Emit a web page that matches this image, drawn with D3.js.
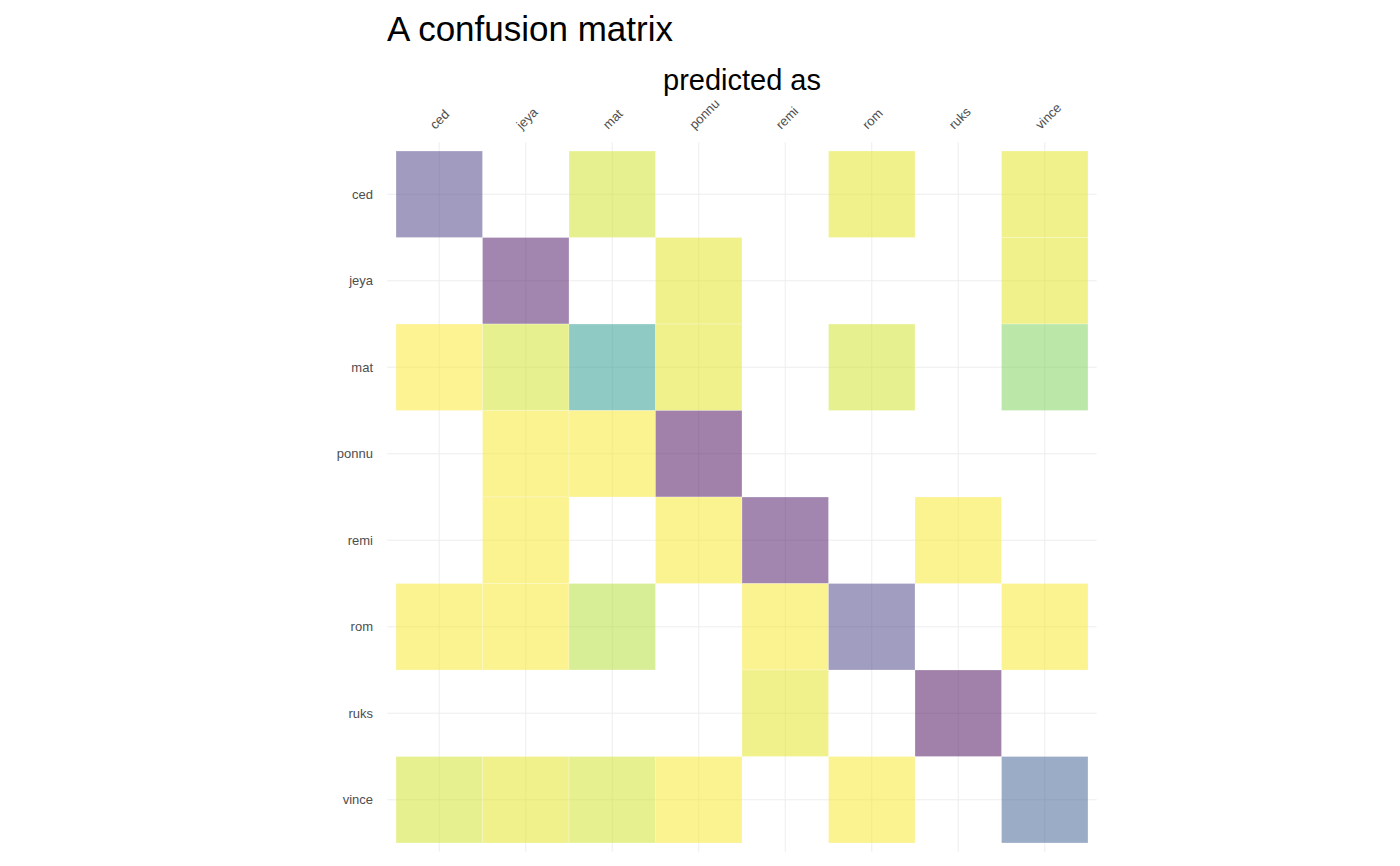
<!DOCTYPE html>
<html>
<head>
<meta charset="utf-8">
<script src="https://cdn.jsdelivr.net/npm/d3@7"></script>
<style>
    body { margin: 0; background: #fff; font-family: "Liberation Sans", Arial, sans-serif; }
    .grid line { stroke: #ebebeb; stroke-width: 0.9; }
    .tile { stroke: #fff; stroke-opacity: 0.25; stroke-width: 1; fill-opacity: 0.5; }
    .tick-label { fill: #4d4d4d; font-size: 13px; }
    .title { fill: #000; font-size: 35px; }
    .axis-title { fill: #000; font-size: 29px; }
</style>
</head>
<body>
<div id="chart"></div>
<script>
const categories = ["ced", "jeya", "mat", "ponnu", "remi", "rom", "ruks", "vince"];

// share of each actual name predicted as each column (null = never predicted)
const sharesCed   = [0.79, null, 0.09, null, null, 0.06, null, 0.06];
const sharesJeya  = [null, 0.91, null, 0.06, null, null, null, 0.06];
const sharesMat   = [0.02, 0.09, 0.46, 0.06, null, 0.09, null, 0.21];
const sharesPonnu = [null, 0.03, 0.03, 0.94, null, null, null, null];
const sharesRemi  = [null, 0.03, null, 0.03, 0.91, null, 0.03, null];
const sharesRom   = [0.03, 0.03, 0.13, null, 0.03, 0.78, null, 0.03];
const sharesRuks  = [null, null, null, null, 0.06, null, 0.94, null];
const sharesVince = [0.09, 0.06, 0.09, 0.03, null, 0.03, null, 0.68];

const rows = [sharesCed, sharesJeya, sharesMat, sharesPonnu,
              sharesRemi, sharesRom, sharesRuks, sharesVince];

class confusionChart {
    constructor(item) {
        this.id = item.id;
        this.categories = item.categories;
        this.cells = [];
        item.rows.forEach((row, i) => {
            row.forEach((v, j) => {
                if (v !== null) {
                    this.cells.push({actual: this.categories[i], predicted: this.categories[j], share: v});
                }
            });
        });
        this.select = d3.select(`#${this.id}`);

        this.init();
        this.createSVG();
        this.build_chart();
    }

    init() {
        this.width = 1400;
        this.height = 866;

        this.scale_x = d3
            .scaleBand()
            .domain(this.categories)
            .range([396, 1088]);

        this.scale_y = d3
            .scaleBand()
            .domain(this.categories)
            .range([151, 843]);

        const extent = d3.extent(this.cells, d => d.share);
        // reversed viridis: small shares yellow, large shares purple
        this.color = d3
            .scaleSequential(d3.interpolateViridis)
            .domain([extent[1], extent[0]]);

        const bw = this.scale_x.bandwidth();
        this.panel = {
            x0: this.scale_x.range()[0] - bw * 0.1,
            x1: this.scale_x.range()[1] + bw * 0.1,
            y0: this.scale_y.range()[0] - bw * 0.1,
            y1: this.scale_y.range()[1] + bw * 0.1
        };
    }

    createSVG() {
        this.plot = this.select
            .append("svg")
            .attr("width", this.width)
            .attr("height", this.height);
        this.grid = this.plot.append("g").attr("class", "grid");
        this.plot_chart = this.plot.append("g").attr("class", "chart");
        this.axis_x = this.plot.append("g").attr("class", "axis axis-x");
        this.axis_y = this.plot.append("g").attr("class", "axis axis-y");
    }

    add_axis() {
        const half = this.scale_x.bandwidth() / 2;

        this.grid
            .selectAll(".grid-x")
            .data(this.categories)
            .join("line")
            .attr("class", "grid-x")
            .attr("x1", d => this.scale_x(d) + half)
            .attr("x2", d => this.scale_x(d) + half)
            .attr("y1", this.panel.y0)
            .attr("y2", this.panel.y1);

        this.grid
            .selectAll(".grid-y")
            .data(this.categories)
            .join("line")
            .attr("class", "grid-y")
            .attr("y1", d => this.scale_y(d) + half)
            .attr("y2", d => this.scale_y(d) + half)
            .attr("x1", this.panel.x0)
            .attr("x2", this.panel.x1);

        this.axis_x
            .selectAll("text")
            .data(this.categories)
            .join("text")
            .attr("class", "tick-label")
            .attr("transform", d => `translate(${this.scale_x(d) + half - 4}, 130) rotate(-45)`)
            .attr("text-anchor", "start")
            .text(d => d);

        this.axis_y
            .selectAll("text")
            .data(this.categories)
            .join("text")
            .attr("class", "tick-label")
            .attr("x", 373)
            .attr("y", d => this.scale_y(d) + half)
            .attr("dy", "0.35em")
            .attr("text-anchor", "end")
            .text(d => d);

        this.plot.append("text")
            .attr("class", "axis-title")
            .attr("x", (this.panel.x0 + this.panel.x1) / 2)
            .attr("y", 90)
            .attr("text-anchor", "middle")
            .text("predicted as");

        this.plot.append("text")
            .attr("class", "title")
            .attr("x", 387)
            .attr("y", 41)
            .text("A confusion matrix");
    }

    build_chart() {
        this.add_axis();

        this.plot_chart
            .selectAll(".tile")
            .data(this.cells)
            .join("rect")
            .attr("class", "tile")
            .attr("x", d => this.scale_x(d.predicted))
            .attr("y", d => this.scale_y(d.actual))
            .attr("width", this.scale_x.bandwidth())
            .attr("height", this.scale_y.bandwidth())
            .attr("fill", d => this.color(d.share));
    }
}

new confusionChart({id: "chart", categories: categories, rows: rows});
</script>
</body>
</html>
